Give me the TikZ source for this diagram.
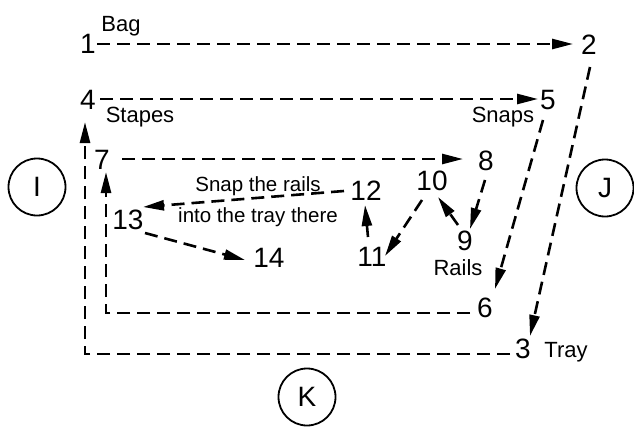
\documentclass[tikz,border=0pt]{standalone}
\usepackage{fontspec}
\setmainfont{Liberation Sans}
\usetikzlibrary{arrows.meta}
\begin{document}
\begin{tikzpicture}[x=1pt,y=-1pt,
 num/.style={inner sep=0pt,font=\fontsize{28}{28}\selectfont},
 lab/.style={inner sep=0pt,font=\fontsize{22}{22}\selectfont},
 note/.style={inner sep=0pt,font=\fontsize{20.5}{20.5}\selectfont},
 ring/.style={circle,draw,line width=1.8pt,minimum size=57pt,inner sep=0pt,font=\fontsize{28}{28}\selectfont},
 conn/.style={line width=2.6pt,dash pattern=on 13pt off 7pt},
 arr/.style={conn,-{Triangle[length=21pt,width=10pt]}}]
\useasboundingbox (0,0) rectangle (634,428);
% numbers
\node[num] (n1) at (88,44) {1};
\node[num] (n2) at (589,45) {2};
\node[num] (n3) at (523,349) {3};
\node[num] (n4) at (88,100) {4};
\node[num] (n5) at (548,100) {5};
\node[num] (n6) at (485,308) {6};
\node[num] (n7) at (102,160) {7};
\node[num] (n8) at (486,161) {8};
\node[num] (n9) at (465,241) {9};
\node[num] (n10) at (432,181) {10};
\node[num] (n11) at (372,257) {11};
\node[num] (n12) at (366,191) {12};
\node[num] (n13) at (128,220) {13};
\node[num] (n14) at (269,258) {14};
% labels
\node[lab] (lbag) at (121,26) {Bag};
\node[lab] (lstapes) at (140,117) {Stapes};
\node[lab] (lsnaps) at (503,117) {Snaps};
\node[lab] (lrails) at (458,268) {Rails};
\node[lab] (ltray) at (566,352) {Tray};
\node[note] (ls1) at (258,186) {Snap the rails};
\node[note] (ls2) at (258,217) {into the tray there};
% circles
\node[ring] (cI) at (37,187) {I};
\node[ring] (cJ) at (605,188) {J};
\node[ring] (cK) at (307,397) {K};
% connectors
\draw[arr] ([shift={(9,0)}]n1.center) -- ([shift={(-16,-1)}]n2.center);
\draw[arr] ([shift={(12,-1)}]n4.center) -- ([shift={(-10,-1)}]n5.center);
\draw[arr] ([shift={(20,-1)}]n7.center) -- ([shift={(-23,-2)}]n8.center);
\draw[arr] ([shift={(1,22)}]n2.center) -- ([shift={(7,-13)}]n3.center);
\draw[arr] ([shift={(-5,20)}]n5.center) -- ([shift={(10,-19)}]n6.center);
\draw[arr] ([shift={(-1,19)}]n8.center) -- ([shift={(5,-12)}]n9.center);
\draw[arr] ([shift={(-7,-16)}]n9.center) -- ([shift={(6,16)}]n10.center);
\draw[arr] ([shift={(-10,19)}]n10.center) -- ([shift={(13,-1)}]n11.center);
\draw[arr] ([shift={(-4,-20)}]n11.center) -- ([shift={(-1,14)}]n12.center);
\draw[arr] ([shift={(-22,0)}]n12.center) -- ([shift={(15,-13)}]n13.center);
\draw[arr] ([shift={(17,13)}]n13.center) -- ([shift={(-24,2)}]n14.center);
\draw[arr] ([shift={(-15,5)}]n6.center) -| ([shift={(4,12)}]n7.center);
\draw[arr] ([shift={(-13,5)}]n3.center) -| ([shift={(-3,22)}]n4.center);
\end{tikzpicture}
\end{document}
